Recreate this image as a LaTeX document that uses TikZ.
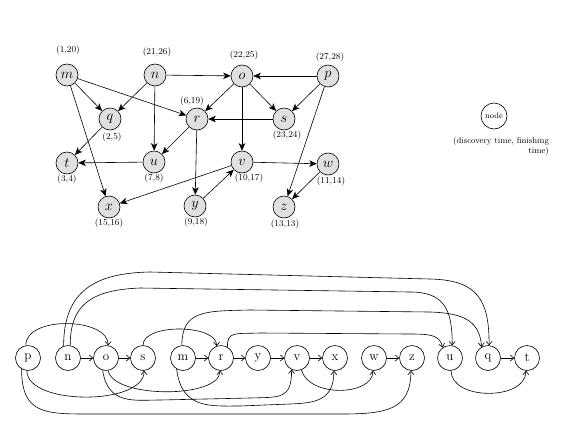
\documentclass[tikz,border=0pt]{standalone}
\usetikzlibrary{arrows.meta}
\begin{document}
\begin{tikzpicture}[x=1pt,y=-1pt,
  gnode/.style={circle,draw,fill=black!12,line width=0.6pt,minimum size=22pt,inner sep=0pt,font=\fontsize{14}{14}\selectfont},
  onode/.style={circle,draw,line width=0.6pt,minimum size=25pt,inner sep=0pt,font=\fontsize{13}{13}\selectfont},
  time/.style={font=\fontsize{9}{9}\selectfont,inner sep=1pt},
  garc/.style={-{Stealth[length=7.5pt,width=6.5pt,inset=2pt]},line width=0.6pt},
  oarc/.style={-{Straight Barb[length=3.5pt,width=6pt]},line width=0.6pt},
]
\useasboundingbox (0,0) rectangle (572,442);

% ---- directed graph ----
\node[gnode] (m) at (67,75)  {$m$};
\node[gnode] (n) at (155,75) {$n$};
\node[gnode] (o) at (242,76) {$o$};
\node[gnode] (p) at (328,76) {$p$};
\node[gnode] (q) at (110,119) {$q$};
\node[gnode] (r) at (197,119) {$r$};
\node[gnode] (s) at (284,119) {$s$};
\node[gnode] (t) at (67,163) {$t$};
\node[gnode] (u) at (154,162) {$u$};
\node[gnode] (v) at (242,162) {$v$};
\node[gnode] (w) at (328,164) {$w$};
\node[gnode] (x) at (109,207) {$x$};
\node[gnode] (y) at (195,206) {$y$};
\node[gnode] (z) at (284,207) {$z$};

% discovery / finishing times
\node[time] (tm) at (68,50)   {(1,20)};
\node[time] (tn) at (157,52)  {(21,26)};
\node[time] (to) at (244,55)  {(22,25)};
\node[time] (tp) at (330,57)  {(27,28)};
\node[time] (tq) at (112,137) {(2,5)};
\node[time] (tr) at (192,101) {(6,19)};
\node[time] (ts) at (287,135) {(23,24)};
\node[time] (tt) at (67,179)  {(3,4)};
\node[time] (tu) at (154,178) {(7,8)};
\node[time] (tv) at (249,178) {(10,17)};
\node[time] (tw) at (331,181) {(11,14)};
\node[time] (tx) at (109,223) {(15,16)};
\node[time] (ty) at (196,222) {(9,18)};
\node[time] (tz) at (285,224) {(13,13)};

\draw[garc] (m) -- (q);
\draw[garc] (m) -- (r);
\draw[garc] (m) -- (x);
\draw[garc] (n) -- (q);
\draw[garc] (n) -- (u);
\draw[garc] (n) -- (o);
\draw[garc] (q) -- (t);
\draw[garc] (r) -- (u);
\draw[garc] (r) -- (y);
\draw[garc] (u) -- (t);
\draw[garc] (o) -- (r);
\draw[garc] (o) -- (s);
\draw[garc] (o) -- (v);
\draw[garc] (p) -- (o);
\draw[garc] (p) -- (s);
\draw[garc] (p) -- (z);
\draw[garc] (s) -- (r);
\draw[garc] (v) -- (w);
\draw[garc] (v) -- (x);
\draw[garc] (y) -- (v);
\draw[garc] (w) -- (z);

% ---- key ----
\node[onode,minimum size=26pt,font=\fontsize{8}{8}\selectfont] (key) at (494,116) {node};
\node[font=\fontsize{8.5}{10}\selectfont,align=right,inner sep=0pt] (keytext) at (501,146)
  {(discovery time, finishing\\time)};

% ---- topological order ----
\node[onode] (P) at (28,358)  {p};
\node[onode] (N) at (68,358)  {n};
\node[onode] (O) at (106,358) {o};
\node[onode] (S) at (143,358) {s};
\node[onode] (M) at (183,358) {m};
\node[onode] (R) at (221,358) {r};
\node[onode] (Y) at (258,358) {y};
\node[onode] (V) at (297,358) {v};
\node[onode] (X) at (335,358) {x};
\node[onode] (W) at (374,358) {w};
\node[onode] (Z) at (412,358) {z};
\node[onode] (U) at (450,358) {u};
\node[onode] (Q) at (488,358) {q};
\node[onode] (T) at (527,358) {t};

% neighbours
\draw[oarc] (N) -- (O);
\draw[oarc] (O) -- (S);
\draw[oarc] (M) -- (R);
\draw[oarc] (R) -- (Y);
\draw[oarc] (Y) -- (V);
\draw[oarc] (V) -- (X);
\draw[oarc] (W) -- (Z);
\draw[oarc] (Q) -- (T);

% arcs above the row
\draw[oarc] (P.100) .. controls +(0,-30) and +(0,-28) .. (O.80);
\draw[oarc] (N.110) .. controls +(0,-55) and (95,273) .. (150,272)
  -- (430,279) .. controls (478,280) and +(0,-45) .. (Q.85);
\draw[oarc] (N.80) .. controls +(0,-40) and (90,290) .. (140,288)
  -- (410,292) .. controls (445,292) and +(0,-35) .. (U.80);
\draw[oarc] (M.95) .. controls +(0,-35) and (205,311) .. (250,310)
  -- (430,312) .. controls (465,313) and +(-2,-25) .. (Q.120);
\draw[oarc] (R.60) .. controls +(0,-16) and (235,334) .. (260,333)
  -- (410,334) .. controls (432,334) and +(-3,-12) .. (U.125);
\draw[oarc] (S.90) .. controls +(0,-22) and +(0,-22) .. (R.110);

% arcs below the row
\draw[oarc] (P.265) .. controls +(0,35) and +(0,35) .. (S.275);
\draw[oarc] (P.240) .. controls +(0,45) and (45,414) .. (90,414)
  -- (340,414) .. controls (385,414) and +(0,40) .. (Z.265);
\draw[oarc] (O.280) .. controls +(5,28) and +(0,28) .. (R.265);
\draw[oarc] (O.255) .. controls +(5,35) and (135,400) .. (160,400)
  -- (250,398) .. controls (280,397) and +(0,30) .. (V.245);
\draw[oarc] (M.240) .. controls +(5,40) and (210,406) .. (240,406)
  -- (290,404) .. controls (315,403) and +(0,30) .. (X.265);
\draw[oarc] (V.290) .. controls +(8,28) and +(0,25) .. (W.265);
\draw[oarc] (U.275) .. controls +(0,30) and +(0,30) .. (T.265);

\end{tikzpicture}
\end{document}
